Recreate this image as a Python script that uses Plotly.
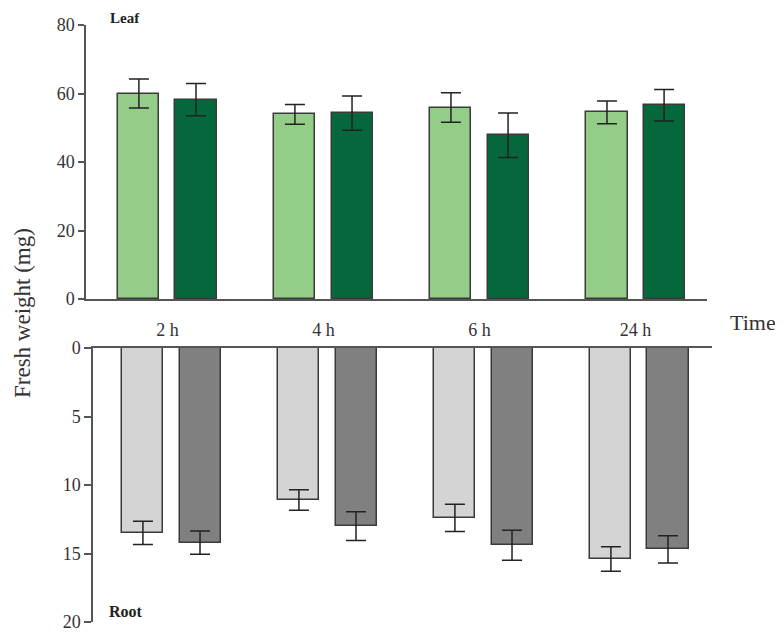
import plotly.graph_objects as go

times = ["2 h", "4 h", "6 h", "24 h"]
leaf_light = [60.0, 53.9, 55.9, 54.5]
leaf_light_err = [4.2, 2.9, 4.3, 3.3]
leaf_dark = [58.2, 54.3, 47.8, 56.6]
leaf_dark_err = [4.7, 5.0, 6.5, 4.6]
root_light = [13.5, 11.1, 12.4, 15.4]
root_light_err = [0.85, 0.75, 1.0, 0.9]
root_dark = [14.2, 13.0, 14.4, 14.7]
root_dark_err = [0.85, 1.05, 1.1, 1.0]

OFF = 8  # page body margin in the viewer
W, H = 783 - OFF, 641 - OFF
FONT = "Liberation Serif"
BW = 0.263
OUT = "#3a3a3a"
ERR = "#222222"

def bar(x, y, err, color, offset, xa, ya):
    return go.Bar(
        x=x, y=y, width=BW, offset=offset,
        marker=dict(color=color, line=dict(color=OUT, width=1.5)),
        error_y=dict(type="data", array=err, visible=True, color=ERR, thickness=1.5, width=10),
        xaxis=xa, yaxis=ya, showlegend=False,
    )

fig = go.Figure()
fig.add_trace(bar(times, leaf_light, leaf_light_err, "#93cd88", -0.3145, "x", "y"))
fig.add_trace(bar(times, leaf_dark, leaf_dark_err, "#05683d", 0.0515, "x", "y"))
fig.add_trace(bar(times, root_light, root_light_err, "#d4d4d4", -0.3145, "x2", "y2"))
fig.add_trace(bar(times, root_dark, root_dark_err, "#808080", 0.0515, "x2", "y2"))

def px(v):
    return (v - OFF) / W

def py(v):
    return 1 - (v - OFF) / H

axis_common = dict(showgrid=False, zeroline=False, linecolor="#555555", linewidth=1.5,
                   automargin=False,
                   tickfont=dict(family=FONT, size=18, color="#333333"))

def label(text, x, y, size, color="#333333", angle=0, yanchor="middle"):
    return dict(text=text, x=px(x), y=py(y), xref="paper", yref="paper",
                xanchor="center", yanchor=yanchor, showarrow=False, textangle=angle,
                font=dict(family=FONT, size=size, color=color))

fig.update_layout(
    width=W, height=H,
    margin=dict(l=0, r=0, t=0, b=0, autoexpand=False),
    plot_bgcolor="white", paper_bgcolor="white",
    bargap=0, barmode="overlay",
    xaxis=dict(axis_common, domain=[px(86), px(707)], anchor="y", type="category",
               categoryorder="array", categoryarray=times,
               range=[-0.522, 3.458], showline=True, ticks="", ticklabelstandoff=14),
    yaxis=dict(axis_common, domain=[py(299), py(25)], anchor="x", range=[0, 80],
               tickvals=[0, 20, 40, 60, 80], showline=True, ticks="outside", ticklen=6,
               tickcolor="#555555", tickwidth=1.5),
    xaxis2=dict(axis_common, domain=[px(93), px(712)], anchor="y2", type="category",
                categoryorder="array", categoryarray=times, side="top",
                range=[-0.503, 3.465], showline=True, ticks="", showticklabels=False),
    yaxis2=dict(axis_common, domain=[py(622), py(348)], anchor="x2", range=[20, 0],
                tickvals=[0, 5, 10, 15, 20], showline=True, ticks="outside", ticklen=7,
                tickcolor="#555555", tickwidth=1.5),
    annotations=[
        label("<b>Leaf</b>", 125, 8, 15, "#222222", yanchor="top"),
        label("<b>Root</b>", 126, 611, 16, "#222222"),
        label("Time", 753, 323, 22),
        label("Fresh weight (mg)", 22, 313, 23, angle=-90),
    ],
)

fig.write_html("out.html")
